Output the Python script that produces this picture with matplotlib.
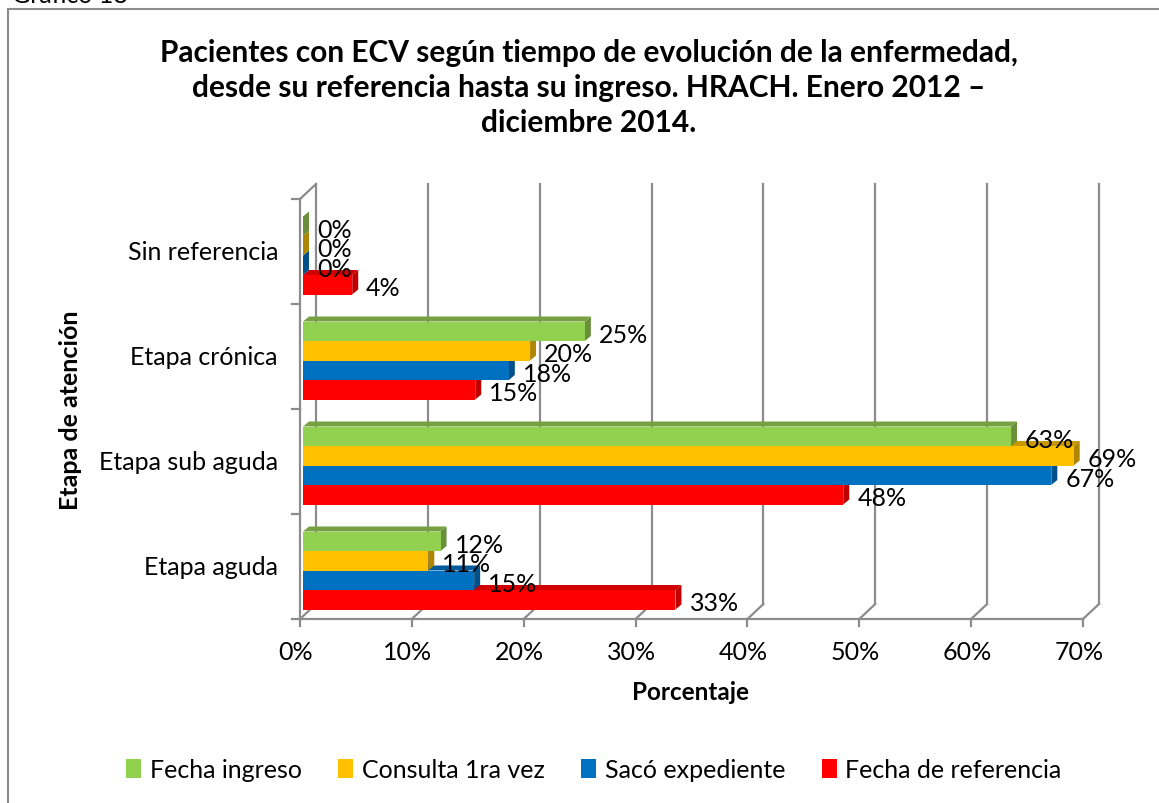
import matplotlib
matplotlib.use("Agg")
import matplotlib.pyplot as plt
from matplotlib.patches import Polygon, Rectangle, Patch

plt.rcParams['font.family'] = ['Lato', 'DejaVu Sans']

categorias = ["Etapa aguda", "Etapa sub aguda", "Etapa crónica", "Sin referencia"]
series = ["Fecha de referencia", "Sacó expediente", "Consulta 1ra vez", "Fecha ingreso"]
fecha_referencia = [33.3, 48.3, 15.4, 4.4]
saco_expediente = [15.3, 66.9, 18.4, 0.0]
consulta_1ra = [11.2, 68.9, 20.3, 0.0]
fecha_ingreso = [12.3, 63.3, 25.2, 0.0]
valores = [fecha_referencia, saco_expediente, consulta_1ra, fecha_ingreso]
xticks = [0, 10, 20, 30, 40, 50, 60, 70]

colores = ["#FF0000", "#0070C0", "#FFC000", "#92D050"]
lados = ["#C00000", "#00508A", "#B08500", "#6A8F3A"]
techos = ["#D00000", "#005A9C", "#C99700", "#77A040"]

W, H = 1159, 804
fig = plt.figure(figsize=(W / 100, H / 100), dpi=100)

# plot area in pixels: x 300..1083, y 200..620
ax = fig.add_axes([300 / W, 1 - 620 / H, 783 / W, 420 / H])
ax.set_xlim(0, 70)
ax.set_ylim(-0.5, 3.5)
ax.axis("off")

pxx = 70 / 783.0
pxy = 4 / 420.0
gris = "#8C8C8C"
fs = 18

# back wall grid + floor
wx, wy = 16 * pxx, 15 * pxy
for v in xticks:
    ax.plot([v + wx, v + wx], [-0.5 + wy, 3.5 + wy], color=gris, lw=1.6, clip_on=False, zorder=1)
    ax.plot([v, v + wx], [-0.5, -0.5 + wy], color=gris, lw=1.6, clip_on=False, zorder=1)
    ax.plot([v, v], [-0.5, -0.5 - 7 * pxy], color=gris, lw=1.6, clip_on=False, zorder=1)
    ax.text(v - 4 * pxx, -0.5 - 33 * pxy, f"{v}%", ha="center", va="center", fontsize=fs)
ax.plot([0, 70], [-0.5, -0.5], color=gris, lw=1.6, clip_on=False, zorder=1)
ax.plot([0, 0], [-0.5, 3.5], color=gris, lw=1.6, clip_on=False, zorder=1)
ax.plot([0, wx], [3.5, 3.5 + wy], color=gris, lw=1.6, clip_on=False, zorder=1)
for b in [-0.5, 0.5, 1.5, 2.5, 3.5]:
    ax.plot([0, -8 * pxx], [b, b], color=gris, lw=1.6, clip_on=False, zorder=1)
for i, c in enumerate(categorias):
    ax.text(-22 * pxx, i, c, ha="right", va="center", fontsize=fs)

# 3D bars
h = 19.5 * pxy
x0 = 3 * pxx
dx, dy = 6 * pxx, 5 * pxy
for i in range(len(categorias)):
    base = i - 2 * h - 4 * pxy
    for k, serie in enumerate(valores):
        v = serie[i]
        y0 = base + k * h
        y1 = y0 + h
        x1 = x0 + v
        ax.add_patch(Polygon([(x0, y1), (x1, y1), (x1 + dx, y1 + dy), (x0 + dx, y1 + dy)],
                             closed=True, fc=techos[k], ec="none", zorder=2))
        ax.add_patch(Polygon([(x1, y0), (x1 + dx, y0 + dy), (x1 + dx, y1 + dy), (x1, y1)],
                             closed=True, fc=lados[k], ec="none", zorder=2))
        ax.add_patch(Rectangle((x0, y0), v, h, fc=colores[k], ec="none", zorder=3))
        ax.text(x1 + 14 * pxx, y0 + h / 2 - 3 * pxy, f"{v:.0f}%", ha="left", va="center",
                fontsize=fs, zorder=5)

# titles
fig.text(589 / W, 1 - 88 / H,
         "Pacientes con ECV según tiempo de evolución de la enfermedad,\n"
         "desde su referencia hasta su ingreso. HRACH. Enero 2012 –\n"
         "diciembre 2014.",
         ha="center", va="center", fontsize=21.5, fontweight="bold", linespacing=1.32)
fig.text(691 / W, 1 - 693 / H, "Porcentaje", ha="center", va="center", fontsize=17.5, fontweight="bold")
fig.text(70 / W, 1 - 410 / H, "Etapa de atención", ha="center", va="center", rotation=90,
         fontsize=18, fontweight="bold")
fig.text(12 / W, 1 - 3 / H, "Gráfico 18", ha="left", va="baseline", fontsize=fs)

# legend
orden = [3, 2, 1, 0]
handles = [Patch(fc=colores[k], ec="none") for k in orden]
fig.legend(handles, [series[k] for k in orden], loc="center", bbox_to_anchor=(594 / W, 1 - 771 / H),
           ncol=4, frameon=False, fontsize=fs, handlelength=0.6, handleheight=0.8,
           handletextpad=0.35, columnspacing=1.45)

# chart border
fig.add_artist(Rectangle((8 / W, -0.1), 1.2, 1.1 - 10 / H, transform=fig.transFigure,
                         fill=False, ec="#8C8C8C", lw=1.5))

fig.savefig("out.png", dpi=100)
